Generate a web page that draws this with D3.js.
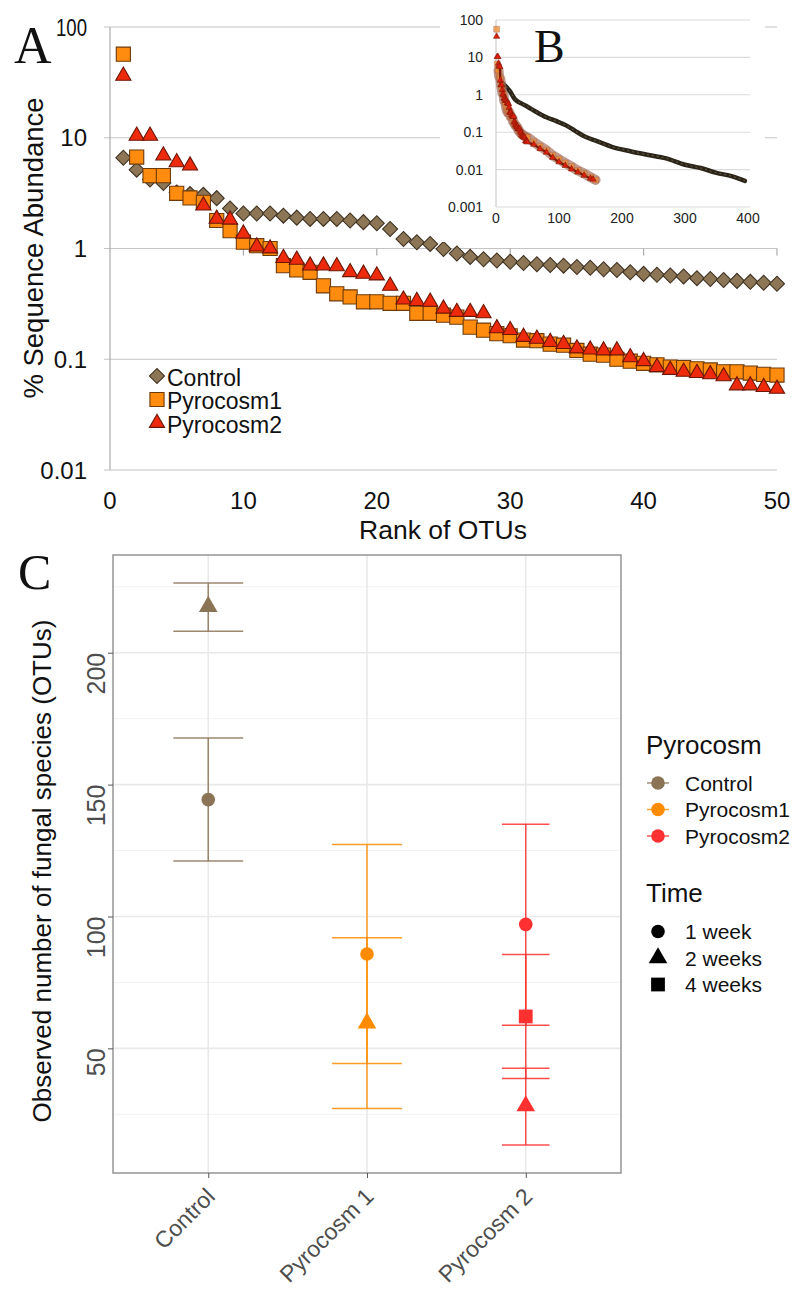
<!DOCTYPE html>
<html>
<head>
<meta charset="utf-8">
<script src="https://cdn.jsdelivr.net/npm/d3@7"></script>
<style>
body { margin: 0; background: #fff; }
svg { display: block; }
text { font-family: 'Liberation Sans', Arial, Helvetica, sans-serif; }
.serif { font-family: 'Liberation Serif', 'Times New Roman', serif; }
</style>
</head>
<body>
<div id="chart"></div>
<script>
// ---- panel A : rank abundance, OTU ranks 1..50 (index + 1)
const seriesA = ["Control", "Pyrocosm1", "Pyrocosm2"];
const controlA = [6.6,5.15,4.2,3.9,3.2,3.1,3.05,2.85,2.3,2.07, 2.07,2.07,1.98,1.9,1.85,1.85,1.85,1.79,1.73,1.69,
                  1.5,1.22,1.14,1.1,0.99,0.9,0.84,0.8,0.78,0.76, 0.74,0.72,0.71,0.7,0.68,0.67,0.65,0.64,0.61,0.59,
                  0.58,0.57,0.56,0.54,0.53,0.52,0.51,0.5,0.49,0.48];
const pyro1A = [56.8,6.7,4.55,4.55,3.15,2.86,2.61,1.79,1.45,1.14, 1.06,1.0,0.7,0.64,0.61,0.46,0.39,0.365,0.33,0.33,
                0.32,0.32,0.26,0.26,0.25,0.24,0.195,0.183,0.17,0.163, 0.149,0.147,0.137,0.134,0.12,0.111,0.109,0.1,0.096,0.092,
                0.089,0.085,0.084,0.082,0.08,0.077,0.077,0.075,0.073,0.072];
const pyro2A = [36.2,10.4,10.4,6.9,6.0,5.6,2.44,1.85,1.82,1.36, 1.04,1.0,0.82,0.79,0.7,0.7,0.69,0.61,0.59,0.57,
                0.46,0.345,0.335,0.33,0.286,0.267,0.267,0.26,0.19,0.183, 0.159,0.153,0.143,0.137,0.125,0.122,0.12,0.12,0.104,0.096,
                0.085,0.08,0.077,0.075,0.073,0.07,0.058,0.058,0.056,0.054];
const xTicksA = [0,10,20,30,40,50];
const yTicksA = [0.01,0.1,1,10,100];
const yTickLabelsA = ["0.01","0.1","1","10","100"];

// ---- panel B : inset, whole rank curves
const insetCtlRank = [1,5,10,22,30,40,50,65,80,95,112,125,140,160,185,213,240,270,300,325,350,375,395];
const insetCtl = [6.6,3.2,2.07,1.25,0.76,0.59,0.48,0.34,0.25,0.2,0.15,0.11,0.078,0.058,0.04,0.031,0.025,0.02,0.0135,0.011,0.0082,0.0066,0.005];
const insetTailRank1 = [60,70,80,90,100,110,120,130,140,150,158];
const insetTail1 = [0.055,0.042,0.033,0.024,0.019,0.015,0.012,0.0095,0.0078,0.0063,0.0053];
const insetTailRank2 = [60,70,80,90,100,110,120,130,140,150,154];
const insetTail2 = [0.047,0.036,0.029,0.021,0.016,0.0128,0.0103,0.0085,0.007,0.0058,0.0055];
const xTicksB = [0,100,200,300,400];
const yTicksB = [0.001,0.01,0.1,1,10,100];
const yTickLabelsB = ["0.001","0.01","0.1","1","10","100"];

// ---- panel C : observed richness
const groupsC = ["Control","Pyrocosm 1","Pyrocosm 2"];
const seriesC = ["Control","Pyrocosm1","Pyrocosm2"];
const timesC = ["1 week","2 weeks","4 weeks"];
const richGroup = [0,0,1,1,2,2,2];
const richTime  = [0,1,0,1,0,2,1];
const richMean  = [144.3,217.5,85.8,59.6,97,62.1,28.2];
const richLow   = [121,208.1,44.3,27.2,58.8,38.6,13.4];
const richHigh  = [167.7,226.4,127.3,91.9,135,85.6,42.5];
const yTicksC = [50,100,150,200];
const yMinorC = [25,75,125,175,225];

const colC = ["#8B7355","#FF8C00","#FF3030"];
const capW = [0.44,0.44,0.3];

const svg = d3.select("#chart").append("svg").attr("width",794).attr("height",1294);

// ================= panel A
const xA = d3.scaleLinear().domain([0,50]).range([110,777]);
const yA = d3.scaleLog().domain([0.01,100]).range([470,27]);
const gA = svg.append("g");

gA.selectAll(".gridA").data(yTicksA).enter().append("line")
  .attr("x1",104).attr("x2",777).attr("y1",d=>yA(d)).attr("y2",d=>yA(d))
  .attr("stroke","#c4c4c4").attr("stroke-width",1.2);
gA.append("line").attr("x1",110).attr("x2",110).attr("y1",yA(100)).attr("y2",yA(0.01))
  .attr("stroke","#ababab").attr("stroke-width",1.2);
// excel crosses the category axis at 1 on a log scale
gA.selectAll(".xtA").data(xTicksA.slice(1)).enter().append("line")
  .attr("x1",d=>xA(d)).attr("x2",d=>xA(d)).attr("y1",yA(1)).attr("y2",yA(1)+7)
  .attr("stroke","#ababab").attr("stroke-width",1.2);

gA.selectAll(".ylA").data(yTicksA).enter().append("text")
  .attr("x",87).attr("y",d=>yA(d)).attr("dy","0.36em").attr("text-anchor","end")
  .attr("font-size",24).attr("fill","#111")
  .each(function(d,i){ if (d === 100) d3.select(this).attr("textLength",31).attr("lengthAdjust","spacingAndGlyphs"); })
  .text((d,i)=>yTickLabelsA[i]);
gA.selectAll(".xlA").data(xTicksA).enter().append("text")
  .attr("x",d=>xA(d)).attr("y",509).attr("text-anchor","middle")
  .attr("font-size",24).attr("fill","#111").text(d=>d);
gA.append("text").attr("x",443).attr("y",539).attr("text-anchor","middle")
  .attr("font-size",26.5).attr("fill","#111").text("Rank of OTUs");
gA.append("text").attr("transform","translate(43,248) rotate(-90)").attr("text-anchor","middle")
  .attr("font-size",27.5).attr("fill","#111").text("% Sequence Abundance");
gA.append("text").attr("class","serif").attr("x",14).attr("y",63).attr("font-size",52).attr("fill","#111").text("A");

const diamond = d3.symbol().type(d3.symbolSquare).size(112)();
const square = d3.symbol().type(d3.symbolSquare).size(200)();
const tri = d3.symbol().type(d3.symbolTriangle).size(100)();
const styleA = [
  {path: diamond, rot: 45, fill: "#8c7656", stroke: "#3f3222"},
  {path: square, rot: 0, fill: "#ff8c0f", stroke: "#6e3a0a"},
  {path: tri, rot: 0, fill: "#ee2a0c", stroke: "#6b1505"}
];
[controlA, pyro1A, pyro2A].forEach((vals, s) => {
  gA.selectAll(".mA"+s).data(vals).enter().append("path")
    .attr("d", styleA[s].path)
    .attr("transform",(d,i)=>"translate("+xA(i+1)+","+yA(d)+") rotate("+styleA[s].rot+")")
    .attr("fill",styleA[s].fill).attr("stroke",styleA[s].stroke).attr("stroke-width",1.1);
});

// legend A
const legA = gA.append("g");
seriesA.forEach((name, s) => {
  const yy = 376 + s*23.5;
  legA.append("path").attr("d",styleA[s].path)
    .attr("transform","translate(157,"+yy+") rotate("+styleA[s].rot+")")
    .attr("fill",styleA[s].fill).attr("stroke",styleA[s].stroke).attr("stroke-width",1.1);
  legA.append("text").attr("x",167).attr("y",yy+9.5).attr("font-size",23).attr("fill","#111").text(name);
});

// ================= panel B (inset)
const xB = d3.scaleLinear().domain([0,400]).range([496,748]);
const yB = d3.scaleLog().domain([0.001,100]).range([207,20]);
const gB = svg.append("g");
gB.append("rect").attr("x",440).attr("y",0).attr("width",325).attr("height",242).attr("fill","#fff");
gB.selectAll(".gridB").data(yTicksB).enter().append("line")
  .attr("x1",496).attr("x2",750).attr("y1",d=>yB(d)).attr("y2",d=>yB(d))
  .attr("stroke","#dcdcdc").attr("stroke-width",1.1);
gB.append("line").attr("x1",496).attr("x2",496).attr("y1",yB(100)).attr("y2",yB(0.001))
  .attr("stroke","#c8c8c8").attr("stroke-width",1.1);
gB.selectAll(".ylB").data(yTicksB).enter().append("text")
  .attr("x",483).attr("y",d=>yB(d)).attr("dy","0.36em").attr("text-anchor","end")
  .attr("font-size",14).attr("fill","#222").text((d,i)=>yTickLabelsB[i]);
gB.selectAll(".xlB").data(xTicksB).enter().append("text")
  .attr("x",d=>xB(d)).attr("y",223).attr("text-anchor","middle")
  .attr("font-size",14).attr("fill","#222").text(d=>d);
gB.append("text").attr("class","serif").attr("x",534).attr("y",62).attr("font-size",46).attr("fill","#111").text("B");

const line = d3.line().x(d=>xB(d[0])).y(d=>yB(d[1])).curve(d3.curveMonotoneX);
const ctlPts = insetCtlRank.map((r,i)=>[r, insetCtl[i]]);
const p1Pts = pyro1A.map((v,i)=>[i+1, v]).concat(insetTailRank1.map((r,i)=>[r, insetTail1[i]]));
const p2Pts = pyro2A.map((v,i)=>[i+1, v]).concat(insetTailRank2.map((r,i)=>[r, insetTail2[i]]));

gB.append("path").attr("d",line(ctlPts.slice(2))).attr("fill","none")
  .attr("stroke","#2b2519").attr("stroke-width",4.5).attr("stroke-linecap","round");
gB.append("path").attr("d",line(ctlPts.slice(2))).attr("fill","none")
  .attr("stroke","#6a5c44").attr("stroke-width",1).attr("stroke-dasharray","2,3");
gB.append("path").attr("d",line(p1Pts.slice(3))).attr("fill","none")
  .attr("stroke","#a8705a").attr("stroke-width",10).attr("stroke-opacity",0.7).attr("stroke-linecap","round");
const sqB = d3.symbol().type(d3.symbolSquare).size(36)();
const trB = d3.symbol().type(d3.symbolTriangle).size(18)();
gB.selectAll(".p1B").data(p1Pts).enter().append("path").attr("d",sqB)
  .attr("transform",d=>"translate("+xB(d[0])+","+yB(d[1])+")")
  .attr("fill","#ec8a30").attr("fill-opacity",0.75).attr("stroke","#8a5a6a").attr("stroke-opacity",0.5).attr("stroke-width",0.6);
gB.append("path").attr("d",line(p2Pts.slice(3))).attr("fill","none")
  .attr("stroke","#7a1808").attr("stroke-width",2.2);
gB.selectAll(".p2B").data(p2Pts).enter().append("path").attr("d",trB)
  .attr("transform",d=>"translate("+xB(d[0])+","+yB(d[1])+")")
  .attr("fill","#d8200c").attr("stroke","#7a1808").attr("stroke-width",0.5);

// ================= panel C
const pLeft = 113, pRight = 621, pTop = 555, pBottom = 1173;
const yLo = d3.min(richLow), yHi = d3.max(richHigh), yPad = (yHi - yLo)*0.05;
const yC = d3.scaleLinear().domain([yLo - yPad, yHi + yPad]).range([pBottom, pTop]);
const xC = d3.scalePoint().domain(groupsC).range([pLeft, pRight]).padding(0.6);
const band = xC.step();
const gC = svg.append("g");

gC.selectAll(".minC").data(yMinorC).enter().append("line")
  .attr("x1",pLeft).attr("x2",pRight).attr("y1",d=>yC(d)).attr("y2",d=>yC(d))
  .attr("stroke","#f2f2f2").attr("stroke-width",1);
gC.selectAll(".majC").data(yTicksC).enter().append("line")
  .attr("x1",pLeft).attr("x2",pRight).attr("y1",d=>yC(d)).attr("y2",d=>yC(d))
  .attr("stroke","#e9e9e9").attr("stroke-width",1.6);
gC.selectAll(".vC").data(groupsC).enter().append("line")
  .attr("x1",d=>xC(d)).attr("x2",d=>xC(d)).attr("y1",pTop).attr("y2",pBottom)
  .attr("stroke","#e9e9e9").attr("stroke-width",1.6);

// error bars
richMean.forEach((m,i) => {
  const g = richGroup[i], cx = xC(groupsC[g]), hw = capW[g]*band/2;
  const eb = gC.append("g").attr("stroke",colC[g]).attr("stroke-width",1.5).attr("stroke-opacity",0.85);
  eb.append("line").attr("x1",cx).attr("x2",cx).attr("y1",yC(richLow[i])).attr("y2",yC(richHigh[i]));
  eb.append("line").attr("x1",cx-hw).attr("x2",cx+hw).attr("y1",yC(richLow[i])).attr("y2",yC(richLow[i]));
  eb.append("line").attr("x1",cx-hw).attr("x2",cx+hw).attr("y1",yC(richHigh[i])).attr("y2",yC(richHigh[i]));
});
const shapesC = [
  d3.symbol().type(d3.symbolCircle).size(145)(),
  d3.symbol().type(d3.symbolTriangle).size(150)(),
  d3.symbol().type(d3.symbolSquare).size(190)()
];
gC.selectAll(".ptC").data(richMean).enter().append("path")
  .attr("d",(d,i)=>shapesC[richTime[i]])
  .attr("transform",(d,i)=>"translate("+xC(groupsC[richGroup[i]])+","+yC(d)+")")
  .attr("fill",(d,i)=>colC[richGroup[i]]);

gC.append("rect").attr("x",pLeft).attr("y",pTop).attr("width",pRight-pLeft).attr("height",pBottom-pTop)
  .attr("fill","none").attr("stroke","#858585").attr("stroke-width",1.3);

// axes
const axL = gC.append("g").attr("transform","translate("+pLeft+",0)")
  .call(d3.axisLeft(yC).tickValues(yTicksC).tickSize(5).tickFormat(""));
axL.select(".domain").remove();
axL.selectAll("line").attr("stroke","#555");
gC.selectAll(".ylC").data(yTicksC).enter().append("text")
  .attr("transform",d=>"translate(105,"+yC(d)+") rotate(-90)")
  .attr("text-anchor","end").attr("font-size",25).attr("fill","#4d4d4d").text(d=>d);
const axB = gC.append("g").attr("transform","translate(0,"+pBottom+")")
  .call(d3.axisBottom(xC).tickSize(5).tickFormat(""));
axB.select(".domain").remove();
axB.selectAll("line").attr("stroke","#555");
gC.selectAll(".xlC").data(groupsC).enter().append("text")
  .attr("transform",d=>"translate("+(xC(d)+8)+",1198) rotate(-45)")
  .attr("text-anchor","end").attr("font-size",23).attr("fill","#4d4d4d").text(d=>d);
gC.append("text").attr("transform","translate(51,871) rotate(-90)").attr("text-anchor","middle")
  .attr("font-size",26).attr("fill","#111").text("Observed number of fungal species (OTUs)");
gC.append("text").attr("class","serif").attr("x",18).attr("y",589).attr("font-size",50).attr("fill","#111").text("C");

// legends C
const legC = gC.append("g");
legC.append("text").attr("x",646).attr("y",754).attr("font-size",26).attr("fill","#111").text("Pyrocosm");
seriesC.forEach((name,s) => {
  const yy = 783 + s*26.5;
  legC.append("line").attr("x1",647).attr("x2",669).attr("y1",yy).attr("y2",yy)
    .attr("stroke",colC[s]).attr("stroke-width",1.5).attr("stroke-opacity",0.8);
  legC.append("path").attr("d",shapesC[0]).attr("transform","translate(658,"+yy+")").attr("fill",colC[s]);
  legC.append("text").attr("x",685).attr("y",yy+7.5).attr("font-size",21).attr("fill","#111").text(name);
});
legC.append("text").attr("x",646).attr("y",902).attr("font-size",26).attr("fill","#111").text("Time");
timesC.forEach((name,t) => {
  const yy = 931.5 + t*26.5;
  legC.append("path").attr("d",shapesC[t]).attr("transform","translate(658,"+yy+")").attr("fill","#000");
  legC.append("text").attr("x",685).attr("y",yy+7.5).attr("font-size",21).attr("fill","#111").text(name);
});
</script>
</body>
</html>
